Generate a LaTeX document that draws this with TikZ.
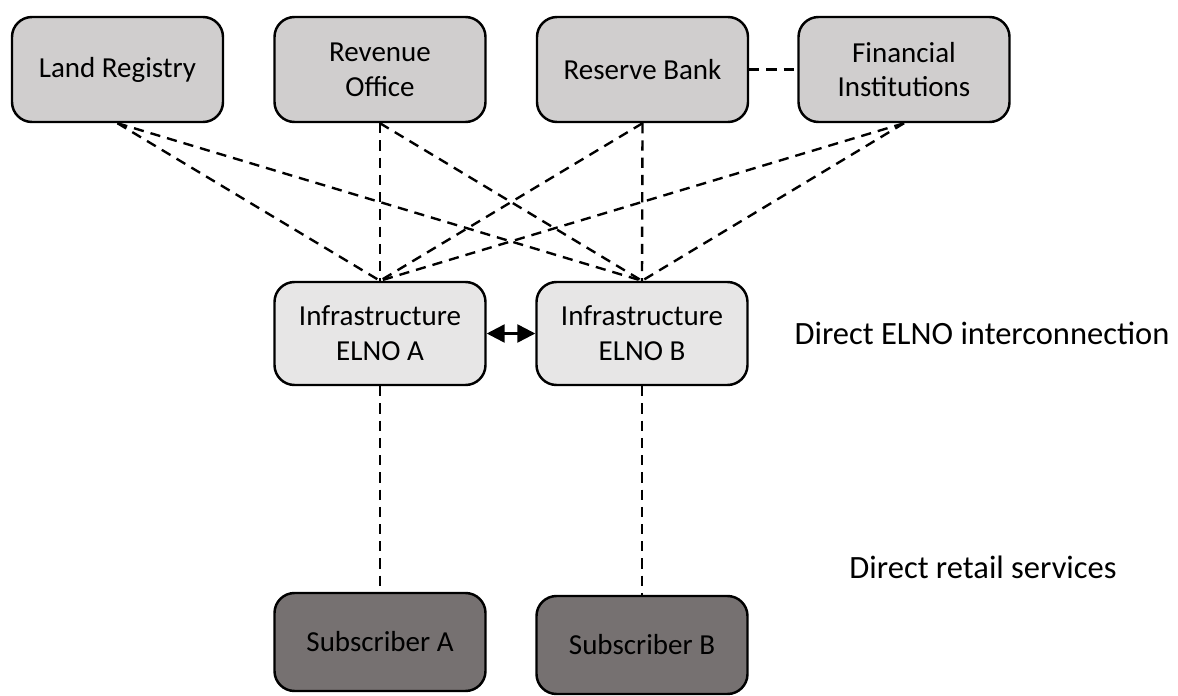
\documentclass[tikz,border=0pt]{standalone}
\usepackage{fontspec}
\setmainfont{Carlito}
\usetikzlibrary{arrows.meta}
\definecolor{topgray}{HTML}{D0CECE}
\definecolor{elnogray}{HTML}{E7E6E6}
\definecolor{subgray}{HTML}{767171}

\begin{document}
\begin{tikzpicture}[
  box/.style={draw, line width=1.4pt, rounded corners=0.4cm, minimum width=4.22cm,
    minimum height=2.1cm, align=center, font=\fontsize{16.5}{19.8}\selectfont},
  link/.style={line width=1.35pt, dash pattern=on 5.8pt off 4pt},
  side/.style={font=\fontsize{18.5}{22}\selectfont}
]
\useasboundingbox (0, 0) rectangle (23.56, 13.9);
% top row
\node[box, fill=topgray] (land) at (2.35, 12.51) {Land Registry};
\node[box, fill=topgray] (revenue) at (7.6, 12.51) {Revenue\\Office};
\node[box, fill=topgray] (reserve) at (12.85, 12.51) {Reserve Bank};
\node[box, fill=topgray] (financial) at (18.08, 12.51) {Financial\\Institutions};
% ELNOs
\node[box, fill=elnogray, minimum height=2.06cm] (elnoA) at (7.6, 7.23) {Infrastructure\\ELNO A};
\node[box, fill=elnogray, minimum height=2.06cm] (elnoB) at (12.84, 7.23) {Infrastructure\\ELNO B};
% subscribers
\node[box, fill=subgray, minimum height=1.96cm] (subA) at (7.6, 1.06) {Subscriber A};
\node[box, fill=subgray, minimum height=1.96cm] (subB) at (12.84, 1.0) {Subscriber B};
% side labels
\node[side] (interconn) at (19.64, 7.24) {Direct ELNO interconnection};
\node[side] (retail) at (19.66, 2.56) {Direct retail services};
% links
\foreach \src in {land, revenue, reserve, financial} {
  \draw[link] (\src.south) -- (elnoA.north);
  \draw[link] (\src.south) -- (elnoB.north);
}
\draw[link] (reserve.east) -- (financial.west);
\draw[link] (elnoA.south) -- (subA.north);
\draw[link] (elnoB.south) -- (subB.north);
\draw[line width=1.4pt, {Triangle[length=0.36cm, width=0.36cm]}-{Triangle[length=0.36cm, width=0.36cm]}] (elnoA.east) -- (elnoB.west);
\end{tikzpicture}
\end{document}
